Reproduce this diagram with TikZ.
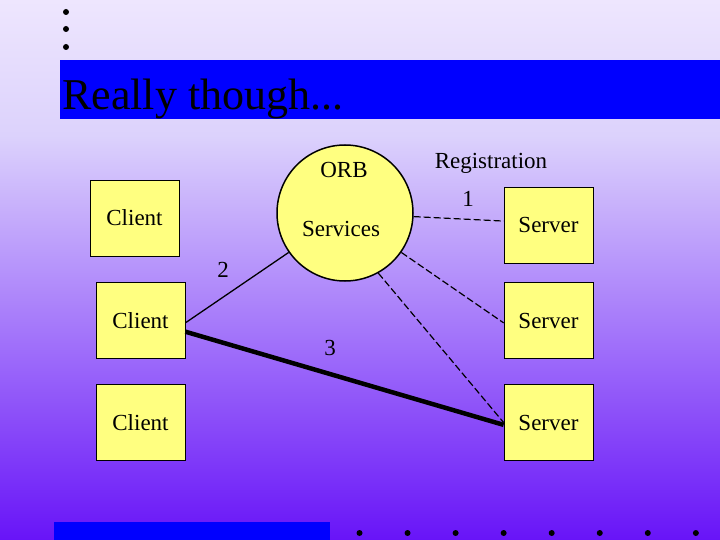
\documentclass[tikz,border=0pt]{standalone}
\usepackage{fontspec}
\setmainfont{Liberation Serif}

\definecolor{bgtop}{HTML}{EEE6FE}
\definecolor{bgmid}{HTML}{DCD2FC}
\definecolor{bgbot}{HTML}{6814F8}
\definecolor{padyellow}{HTML}{FFFF80}

\tikzset{
  box/.style={draw=black, line width=0.8pt, fill=padyellow, minimum width=89pt,
    minimum height=76pt, inner sep=0pt, font=\fontsize{23}{26}\selectfont},
  lbl/.style={inner sep=0pt, font=\fontsize{23}{26}\selectfont},
  regline/.style={line width=1.2pt, dash pattern=on 7pt off 3pt},
}

\begin{document}
\begin{tikzpicture}[x=1pt, y=-1pt]

        % Background
        \shade[top color=bgtop, bottom color=bgmid] (0,0) rectangle (720,135);
        \shade[top color=bgmid, bottom color=bgbot] (0,135) rectangle (720,540);
        \useasboundingbox (0,0) rectangle (720,540);

        % Bullets and title bar
        \foreach \y in {12,29,47}
            \fill (66,\y) circle[radius=3pt];
        \fill[blue] (60,60) rectangle (720,119);
        \node[anchor=base west, inner sep=0pt, font=\fontsize{44}{48}\selectfont] (title) at (62,110) {Really though...};

        % ORB circle
        \node[circle, draw, line width=1.5pt, fill=padyellow, minimum size=136pt, inner sep=0pt] (orb) at (345,213) {};
        \node[lbl] (orbname) at (344,170) {ORB};
        \node[lbl] (services) at (341,229) {Services};

        % Clients
        \node[box] (c1) at (134.5,218) {Client};
        \node[box] (c2) at (140.5,320.5) {Client};
        \node[box] (c3) at (140.5,422.5) {Client};

        % Servers
        \node[box] (s1) at (548.5,225) {Server};
        \node[box] (s2) at (548.5,320.5) {Server};
        \node[box] (s3) at (548.5,422.5) {Server};

        % Registration
        \draw[regline] (orb.-3) -- (s1.175);
        \node[lbl] (regname) at (491,163) {Registration};
        \node[lbl] (one) at (468,199) {1};

        % Lookup and call
        \draw[line width=1.3pt] (c2.-3) -- (orb.215);
        \node[lbl] (two) at (223,270) {2};
        \draw[line width=4.5pt] (c2.-14) -- (s3.183);
        \node[lbl] (three) at (330,348) {3};

        % Other servers
        \draw[regline] (orb.-35) -- (s2.183);
        \draw[regline] (orb.-61) -- (s3.180);

        % Footer
        \fill[blue] (54,522) rectangle (330,540);
        \foreach \i in {0,...,7}
            \fill ({359.5+48.05*\i},533) circle[radius=3pt];

\end{tikzpicture}
\end{document}
